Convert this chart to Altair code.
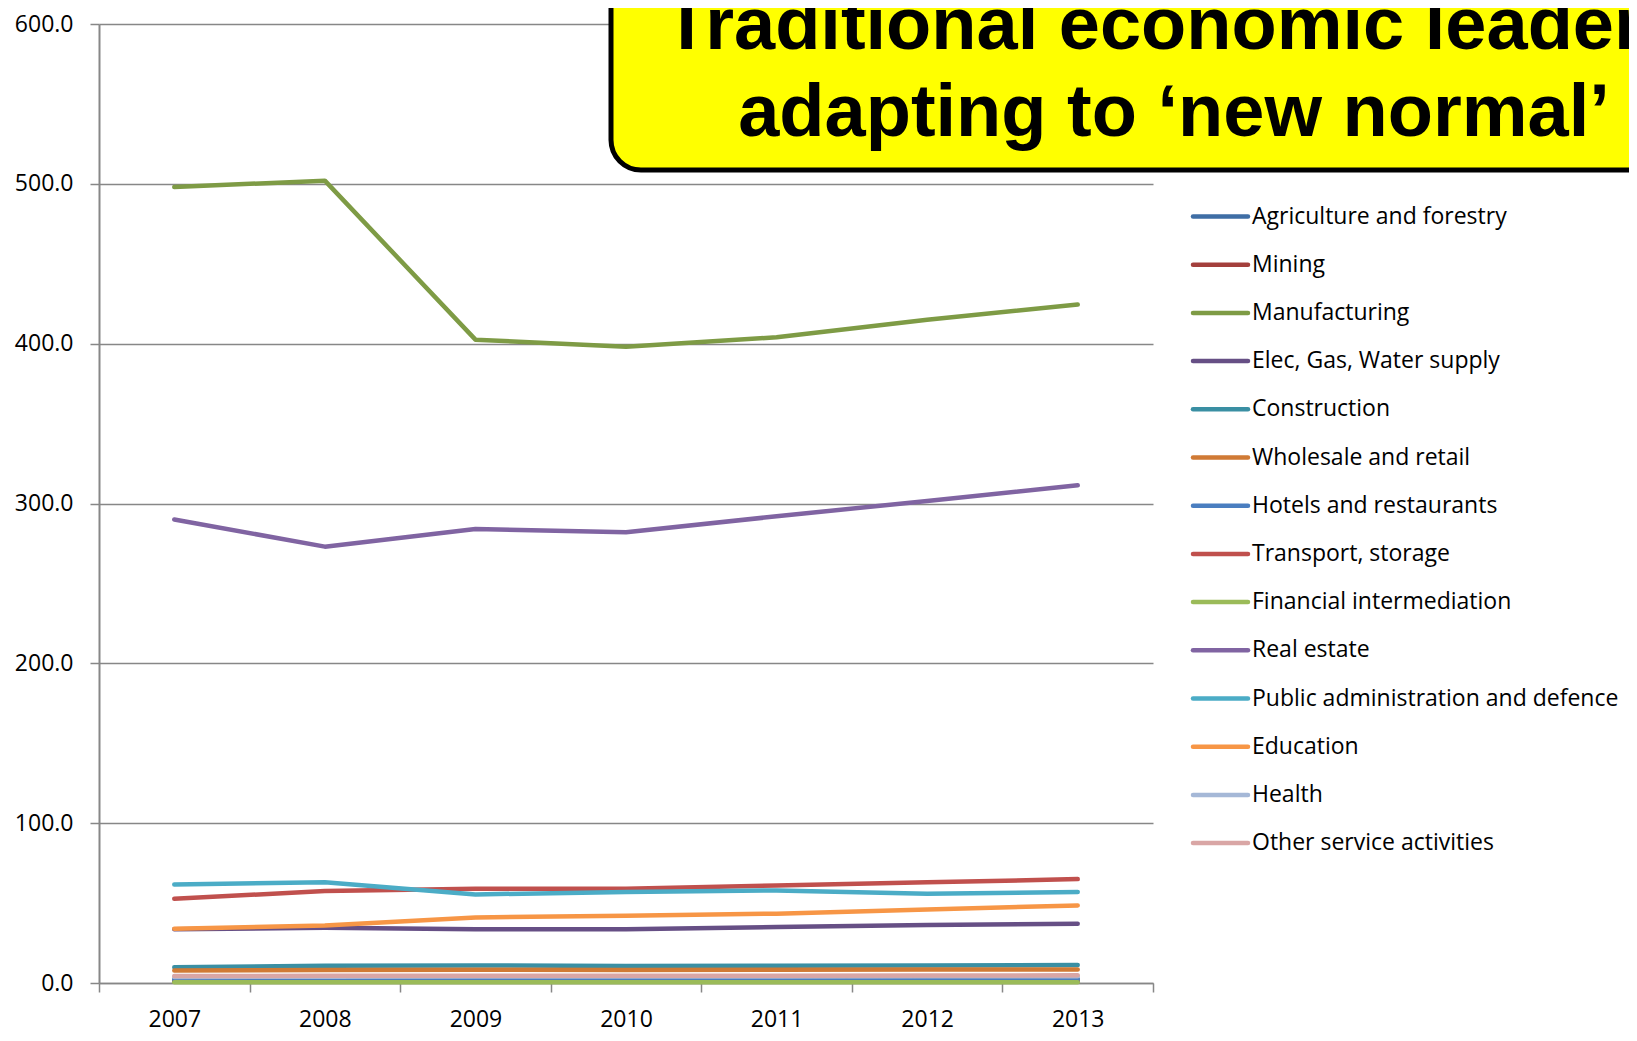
import altair as alt
import pandas as pd

years = ["2007", "2008", "2009", "2010", "2011", "2012", "2013"]

categories = [
    "Agriculture and forestry",
    "Mining",
    "Manufacturing",
    "Elec, Gas, Water supply",
    "Construction",
    "Wholesale and retail",
    "Hotels and restaurants",
    "Transport, storage",
    "Financial intermediation",
    "Real estate",
    "Public administration and defence",
    "Education",
    "Health",
    "Other service activities",
]

colors = [
    "#3F6EA5", "#A33F3C", "#7E9B45", "#664F85", "#3A8FA3", "#D07A35", "#4A7EC0",
    "#C0504D", "#9BBB59", "#8064A2", "#4BACC6", "#F79646", "#A5B8D7", "#D9A6A5",
]

agriculture = [1.8, 1.9, 2.0, 2.0, 2.1, 2.1, 2.2]
mining = [1.0, 1.0, 0.9, 0.9, 0.9, 0.9, 0.9]
manufacturing = [498.0, 502.0, 402.5, 398.0, 404.0, 415.0, 424.5]
elec_gas_water = [33.6, 34.6, 33.6, 33.6, 35.0, 36.3, 37.1]
construction = [9.8, 10.8, 11.0, 10.6, 10.8, 11.0, 11.3]
wholesale = [7.8, 8.2, 8.3, 8.2, 8.3, 8.4, 8.5]
hotels = [2.2, 2.3, 2.3, 2.3, 2.4, 2.4, 2.5]
transport = [52.7, 57.5, 58.9, 58.9, 61.0, 63.0, 65.0]
financial = [0.4, 0.4, 0.4, 0.4, 0.4, 0.4, 0.4]
real_estate = [290.0, 273.0, 284.0, 282.0, 292.0, 301.6, 311.4]
public_admin = [61.6, 63.0, 55.4, 57.0, 57.9, 55.8, 57.0]
education = [34.0, 36.0, 41.0, 42.0, 43.4, 46.0, 48.5]
health = [3.8, 3.9, 4.0, 4.0, 4.1, 4.2, 4.3]
other_services = [4.4, 4.5, 4.5, 4.6, 4.6, 4.7, 4.8]

y_ticks = [0, 100, 200, 300, 400, 500, 600]
title_line1 = "Traditional economic leaders"
title_line2 = "adapting to \u2018new normal\u2019"

series = [agriculture, mining, manufacturing, elec_gas_water, construction, wholesale,
          hotels, transport, financial, real_estate, public_admin, education, health,
          other_services]

rows = []
for ci, (cat, vals) in enumerate(zip(categories, series)):
    for yr, v in zip(years, vals):
        rows.append({"sector": cat, "year": yr, "value": v, "ord": ci})
df = pd.DataFrame(rows)
df_leg = pd.DataFrame({"sector": categories})

grey = "#878787"
color_scale = alt.Scale(domain=categories, range=colors)

lines = alt.Chart(df).mark_line(strokeWidth=4.5, strokeCap="round", strokeJoin="round").encode(
    x=alt.X("year:O", bandPosition=0.5,
            scale=alt.Scale(type="band", domain=years, paddingInner=0, paddingOuter=0),
            axis=alt.Axis(title=None, labelAngle=0, tickBand="extent", grid=False,
                          domainColor=grey, domainWidth=1.5, tickColor=grey, tickWidth=1.5,
                          tickSize=9, labelPadding=34, labelBaseline="alphabetic",
                          labelFont="Open Sans", labelFontSize=23, labelColor="black")),
    y=alt.Y("value:Q", scale=alt.Scale(domain=[0, 600], nice=False, zero=True),
            axis=alt.Axis(title=None, values=y_ticks, format=".1f", grid=True,
                          gridColor=grey, gridWidth=1.3, domainColor=grey, domainWidth=2,
                          tickColor=grey, tickWidth=1.5, tickSize=9, labelPadding=17,
                          labelFont="Open Sans", labelFontSize=23, labelColor="black")),
    color=alt.Color("sector:N", scale=color_scale, legend=None),
    order=alt.Order("ord:Q"),
)

leg_y = alt.Y("sector:N", scale=alt.Scale(type="point", domain=categories,
                                           range=[192.5, 819.1], padding=0), axis=None)

leg_rules = alt.Chart(df_leg).mark_rule(strokeWidth=4.5, strokeCap="round").encode(
    x=alt.value(1094), x2=alt.value(1149), y=leg_y,
    color=alt.Color("sector:N", scale=color_scale, legend=None),
)

leg_text = alt.Chart(df_leg).mark_text(align="left", baseline="middle", font="Open Sans",
                                       fontSize=23, color="black").encode(
    x=alt.value(1153), y=leg_y, text="sector:N",
)

box = alt.Chart(pd.DataFrame({"k": [0]})).mark_rect(
    fill="#FFFF00", stroke="black", strokeWidth=5, cornerRadius=30).encode(
    x=alt.value(512), x2=alt.value(1700), y=alt.value(-120), y2=alt.value(146),
)

t1 = alt.Chart(pd.DataFrame({"t": [title_line1]})).mark_text(
    align="center", baseline="alphabetic", font="Liberation Sans", fontWeight="bold",
    fontSize=74, color="black").encode(x=alt.value(1075), y=alt.value(25), text="t:N")
t2 = alt.Chart(pd.DataFrame({"t": [title_line2]})).mark_text(
    align="center", baseline="alphabetic", font="Liberation Sans", fontWeight="bold",
    fontSize=74, color="black").encode(x=alt.value(1075), y=alt.value(112), text="t:N")

chart = alt.layer(lines, leg_rules, leg_text, box, t1, t2).resolve_scale(
    y="independent"
).properties(
    width=1054, height=959,
    padding={"left": 91, "top": 16, "right": 476, "bottom": 50},
    autosize=alt.AutoSizeParams(type="none"),
    background="white",
).configure_view(stroke=None)

chart.save("out.html", embed_options={"renderer": "svg", "actions": False})
